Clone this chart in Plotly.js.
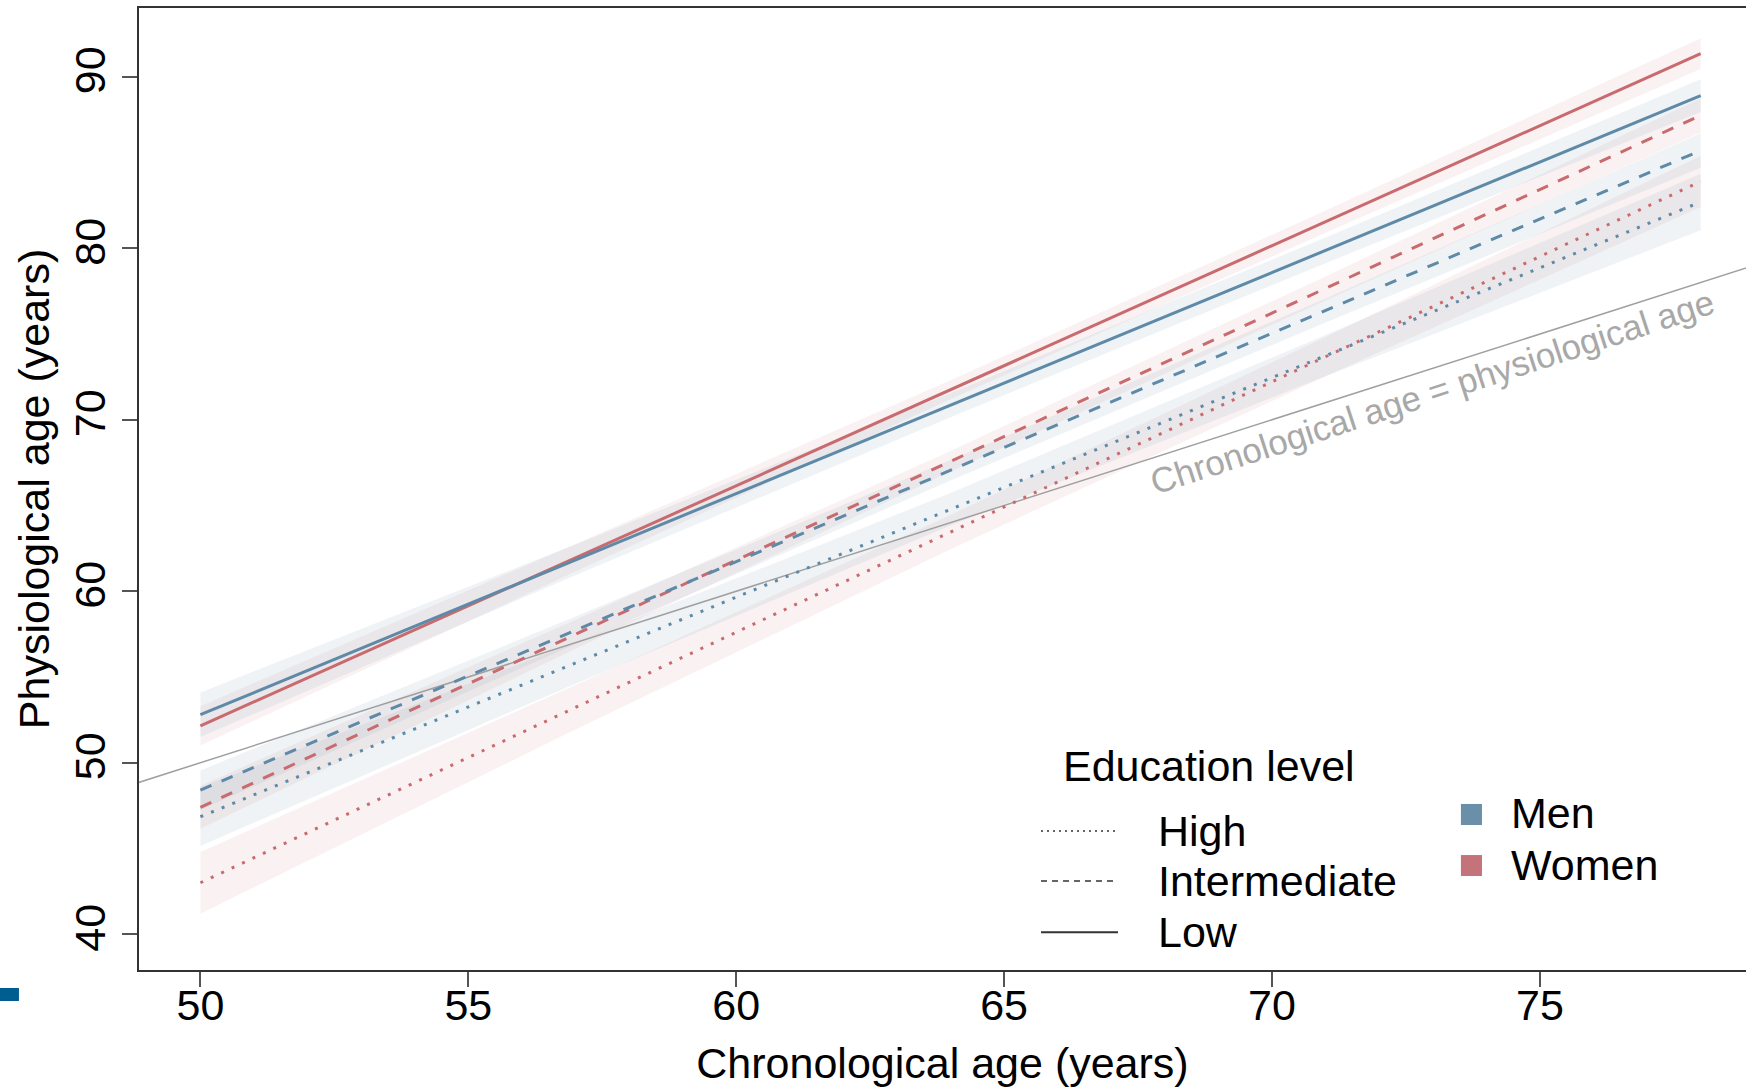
<!DOCTYPE html>
<html>
<head>
<meta charset="utf-8">
<script src="https://cdn.plot.ly/plotly-3.0.1.min.js"></script>
<style>
html,body{margin:0;padding:0;background:#fff;}
#chart{width:1746px;height:1087px;}
</style>
</head>
<body>
<div id="chart"></div>
<script>
// ---- data ----
const lineX = [50, 78];
const lowMen = [52.8, 88.9];
const lowWomen = [52.15, 91.35];
const intMen = [48.4, 85.7];
const intWomen = [47.4, 87.75];
const highMen = [46.85, 82.7];
const highWomen = [43.0, 83.9];

const bandX = [50, 57, 64, 71, 78];
const lowMenLo = [51.5, 60.93, 70.15, 79.13, 87.95];
const lowMenHi = [54.1, 62.73, 71.55, 80.63, 89.85];
const lowWomenLo = [51.0, 61.15, 71.2, 80.9, 90.45];
const lowWomenHi = [53.3, 62.75, 72.3, 82.2, 92.25];
const intMenLo = [47.25, 56.92, 66.45, 75.67, 84.7];
const intMenHi = [49.55, 58.52, 67.65, 77.07, 86.7];
const intWomenLo = [46.15, 56.64, 66.98, 76.96, 86.75];
const intWomenHi = [48.65, 58.34, 68.18, 78.36, 88.75];
const highMenLo = [45.15, 54.61, 63.83, 72.54, 81.05];
const highMenHi = [48.55, 57.01, 65.73, 74.94, 84.35];
const highWomenLo = [41.2, 51.93, 62.45, 72.53, 82.4];
const highWomenHi = [44.8, 54.53, 64.45, 74.83, 85.4];

const refX = [45, 82];
const refY = [45, 82];

const xTicks = [50, 55, 60, 65, 70, 75];
const yTicks = [40, 50, 60, 70, 80, 90];

const eduLabels = ['High', 'Intermediate', 'Low'];
const sexLabels = ['Men', 'Women'];

// ---- styles ----
const MEN = '#5e8aa8', WOMEN = '#c86a6e';
const MEN_BAND = 'rgba(94,138,168,0.10)', WOMEN_BAND = 'rgba(200,106,110,0.09)';
const FONT = 'Liberation Sans, Arial, Helvetica, sans-serif';

function band(lo, hi, color) {
  return {
    x: bandX.concat(bandX.slice().reverse()),
    y: hi.concat(lo.slice().reverse()),
    mode: 'lines', fill: 'toself', fillcolor: color,
    line: {width: 0}, hoverinfo: 'skip', showlegend: false
  };
}
function line(y, color, dash, width) {
  return {x: lineX, y: y, mode: 'lines',
    line: {color: color, width: width, dash: dash},
    hoverinfo: 'skip', showlegend: false};
}

const DOT = '3px,8.5px', DASH = '12px,11px';

const data = [
  band(highWomenLo, highWomenHi, WOMEN_BAND),
  band(highMenLo, highMenHi, MEN_BAND),
  band(intWomenLo, intWomenHi, WOMEN_BAND),
  band(intMenLo, intMenHi, MEN_BAND),
  band(lowWomenLo, lowWomenHi, WOMEN_BAND),
  band(lowMenLo, lowMenHi, MEN_BAND),
  {x: refX, y: refY, mode: 'lines', line: {color: '#a0a0a0', width: 1.5},
   hoverinfo: 'skip', showlegend: false},
  line(highWomen, WOMEN, DOT, 3),
  line(highMen, MEN, DOT, 3),
  line(intWomen, WOMEN, DASH, 3),
  line(intMen, MEN, DASH, 3),
  line(lowWomen, WOMEN, 'solid', 3),
  line(lowMen, MEN, 'solid', 3)
];

// legend positions (paper coords)
const eduY = [0.1445, 0.0925, 0.0392];
const eduDash = ['2px,4px', '6px,5px', 'solid'];
const eduWidth = [1.3, 1.5, 2];
const sexColors = ['#6a90a9', '#c5737a'];
const sexY = [[0.1507, 0.1726], [0.0977, 0.1195]];
const sexTextY = [0.1632, 0.1091];

const shapes = [];
const annotations = [];
eduLabels.forEach((t, i) => {
  shapes.push({type: 'line', xref: 'paper', yref: 'paper',
    x0: 0.5613, x1: 0.6092, y0: eduY[i], y1: eduY[i],
    line: {color: '#333', width: eduWidth[i], dash: eduDash[i]}});
  annotations.push({xref: 'paper', yref: 'paper', x: 0.6327, y: eduY[i],
    xanchor: 'left', yanchor: 'middle', text: t, showarrow: false,
    font: {family: FONT, size: 43, color: '#000'}});
});
sexLabels.forEach((t, i) => {
  shapes.push({type: 'rect', xref: 'paper', yref: 'paper',
    x0: 0.8226, x1: 0.8357, y0: sexY[i][0], y1: sexY[i][1],
    fillcolor: sexColors[i], line: {width: 0}});
  annotations.push({xref: 'paper', yref: 'paper', x: 0.8524, y: sexTextY[i],
    xanchor: 'left', yanchor: 'middle', text: t, showarrow: false,
    font: {family: FONT, size: 43, color: '#000'}});
});
annotations.push({xref: 'paper', yref: 'paper', x: 0.5737, y: 0.2121,
  xanchor: 'left', yanchor: 'middle', text: 'Education level', showarrow: false,
  font: {family: FONT, size: 43, color: '#000'}});
annotations.push({xref: 'x', yref: 'y', x: 73.0, y: 71.62,
  xanchor: 'center', yanchor: 'middle', textangle: -18,
  text: 'Chronological age = physiological age', showarrow: false,
  font: {family: FONT, size: 35, color: '#a8a8a8'}});
// small blue mark at bottom-left of the figure
shapes.push({type: 'rect', xref: 'paper', yref: 'paper',
  x0: -0.0865, x1: -0.0747, y0: -0.0322, y1: -0.0187,
  fillcolor: '#005d8f', line: {width: 0}});

const layout = {
  width: 1746, height: 1087,
  margin: {l: 139, r: 0, t: 8, b: 117, pad: 0},
  paper_bgcolor: '#fff', plot_bgcolor: '#fff',
  showlegend: false,
  font: {family: FONT, size: 43, color: '#000'},
  xaxis: {
    range: [48.854, 78.846], tickmode: 'array', tickvals: xTicks,
    ticktext: xTicks.map(String),
    ticks: 'outside', ticklen: 15, tickwidth: 2, tickcolor: '#555',
    ticklabelstandoff: -19,
    showline: true, linecolor: '#333', linewidth: 2, mirror: true,
    showgrid: false, zeroline: false,
    tickfont: {family: FONT, size: 43, color: '#000'},
    title: {text: 'Chronological age (years)', standoff: 29,
      font: {family: FONT, size: 43, color: '#000'}}
  },
  yaxis: {
    range: [37.913, 94.01], tickmode: 'array', tickvals: yTicks,
    ticktext: yTicks.map(String), tickangle: -90,
    ticks: 'outside', ticklen: 15, tickwidth: 2, tickcolor: '#555',
    showline: true, linecolor: '#333', linewidth: 2, mirror: false,
    showgrid: false, zeroline: false,
    tickfont: {family: FONT, size: 43, color: '#000'},
    title: {text: 'Physiological age (years)', standoff: 3,
      font: {family: FONT, size: 43, color: '#000'}}
  },
  shapes: shapes,
  annotations: annotations
};

Plotly.newPlot('chart', data, layout, {displayModeBar: false, staticPlot: true});
</script>
</body>
</html>
